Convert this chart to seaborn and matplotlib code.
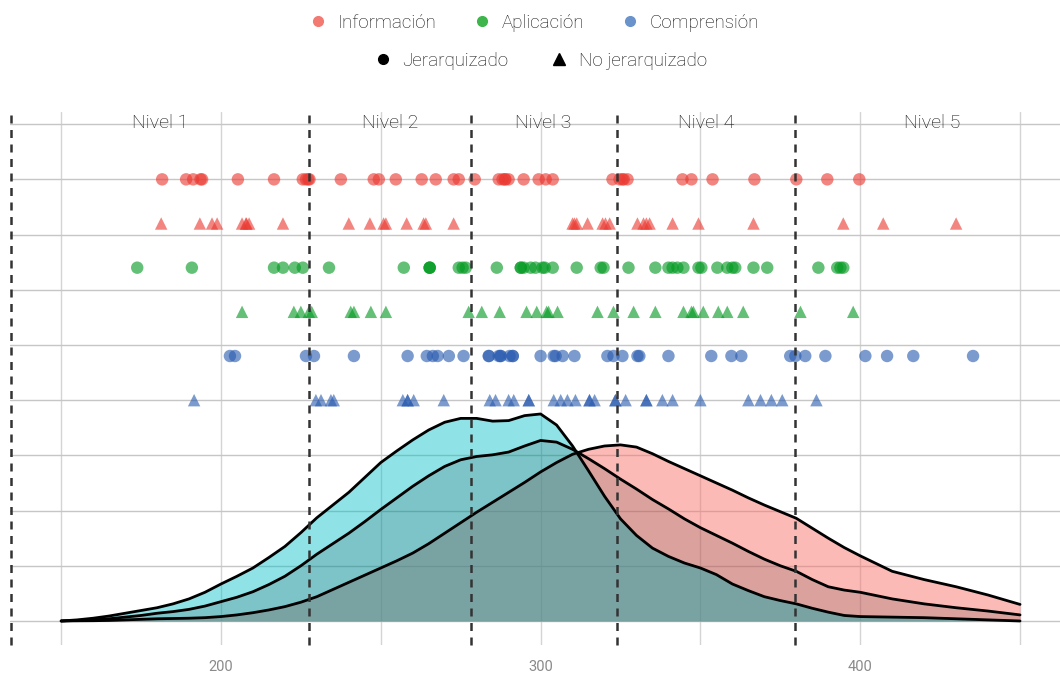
import numpy as np
import pandas as pd
import matplotlib
matplotlib.use("Agg")
import matplotlib.pyplot as plt
from matplotlib.lines import Line2D
import seaborn as sns

# ---------------- data ----------------
info_jer = [181.6, 189.1, 191.3, 193.6, 194.1, 205.3, 216.6, 225.6, 226.6, 227.3, 227.7, 237.5,
            247.8, 249.4, 254.7, 262.8, 267.2, 272.8, 274.4, 279.4, 286.9, 288.1, 288.8, 289.0,
            290.0, 294.7, 299.4, 301.6, 303.8, 322.5, 324.7, 325.6, 326.0, 327.2, 344.4, 347.2,
            353.8, 366.9, 380.0, 389.7, 399.7]
info_nojer = [181.3, 193.4, 197.2, 198.8, 206.6, 207.8, 208.0, 208.8, 219.4, 240.0, 246.6, 250.9,
              251.6, 258.1, 263.4, 264.1, 272.8, 310.0, 310.6, 311.3, 314.7, 319.4, 320.3, 321.6,
              330.3, 332.2, 333.1, 334.1, 341.3, 349.4, 366.6, 394.7, 407.2, 430.0]
apli_jer = [173.8, 190.9, 216.6, 219.4, 223.1, 225.6, 233.8, 257.2, 265.3, 265.3, 265.3, 274.4,
            275.6, 276.6, 286.3, 293.8, 293.8, 294.7, 296.9, 298.4, 300.6, 301.3, 303.8, 311.3,
            318.8, 319.7, 327.5, 335.9, 340.0, 341.3, 342.8, 344.7, 349.4, 350.3, 355.3, 358.4,
            360.0, 360.9, 366.6, 370.9, 386.9, 392.8, 393.8, 394.7]
apli_nojer = [206.6, 222.8, 225.0, 227.5, 228.4, 240.6, 241.6, 246.9, 251.6, 277.5, 281.6, 287.2,
              295.6, 298.8, 301.9, 302.5, 305.3, 317.8, 322.8, 329.1, 335.9, 344.7, 347.2, 347.8,
              350.9, 355.6, 358.4, 363.4, 381.3, 397.8]
comp_jer = [202.8, 204.4, 226.6, 229.1, 241.6, 258.4, 264.4, 266.3, 267.8, 271.3, 275.9, 283.8,
            283.8, 286.9, 287.5, 287.5, 290.3, 291.3, 291.3, 300.0, 304.1, 304.7, 306.9, 310.6,
            320.9, 322.8, 325.6, 330.3, 330.9, 340.0, 353.4, 359.7, 362.8, 378.1, 379.7, 382.8,
            389.1, 401.6, 408.4, 416.6, 435.3]
comp_nojer = [191.6, 229.7, 231.3, 234.4, 235.3, 256.9, 258.4, 258.4, 260.3, 269.7, 284.1, 285.9,
              290.0, 291.6, 296.3, 296.3, 304.1, 306.3, 308.4, 310.9, 315.3, 315.3, 316.9, 323.4,
              323.4, 326.6, 333.1, 333.1, 338.1, 341.3, 350.0, 365.0, 368.8, 372.2, 375.6, 386.3]

categories = ["Información", "Aplicación", "Comprensión"]
groups = ["Jerarquizado", "No jerarquizado"]

# density curves (score grid and heights)
dens_x = [150, 155, 160, 165, 170, 175, 180, 185, 190, 195, 200, 205, 210, 215, 220, 225, 230,
          235, 240, 245, 250, 255, 260, 265, 270, 275, 280, 285, 290, 295, 300, 305, 310, 315,
          320, 325, 330, 335, 340, 345, 350, 355, 360, 365, 370, 375, 380, 385, 390, 395, 400,
          410, 420, 430, 440, 450]
dens_teal = [0.0, 0.02, 0.05, 0.09, 0.14, 0.19, 0.24, 0.31, 0.40, 0.52, 0.67, 0.81, 0.96, 1.15,
             1.35, 1.60, 1.87, 2.10, 2.33, 2.60, 2.87, 3.08, 3.28, 3.46, 3.60, 3.67, 3.67, 3.62,
             3.63, 3.72, 3.75, 3.55, 3.17, 2.72, 2.26, 1.85, 1.55, 1.32, 1.17, 1.05, 0.96, 0.84,
             0.67, 0.55, 0.44, 0.37, 0.31, 0.23, 0.16, 0.10, 0.08, 0.07, 0.06, 0.04, 0.02, 0.0]
dens_mid = [0.0, 0.01, 0.02, 0.04, 0.07, 0.10, 0.14, 0.17, 0.21, 0.27, 0.35, 0.43, 0.53, 0.66,
            0.81, 1.00, 1.21, 1.40, 1.59, 1.80, 2.02, 2.23, 2.44, 2.63, 2.80, 2.92, 2.98, 3.01,
            3.06, 3.17, 3.27, 3.24, 3.11, 2.94, 2.76, 2.57, 2.39, 2.20, 2.03, 1.85, 1.69, 1.55,
            1.41, 1.26, 1.12, 1.00, 0.90, 0.75, 0.62, 0.56, 0.52, 0.40, 0.31, 0.24, 0.18, 0.11]
dens_red = [0.0, 0.003, 0.005, 0.01, 0.02, 0.03, 0.04, 0.045, 0.05, 0.06, 0.08, 0.11, 0.15, 0.20,
            0.26, 0.34, 0.44, 0.57, 0.70, 0.83, 0.96, 1.09, 1.23, 1.40, 1.59, 1.78, 1.97, 2.15,
            2.33, 2.51, 2.70, 2.87, 3.02, 3.11, 3.17, 3.19, 3.15, 3.03, 2.89, 2.76, 2.63, 2.50,
            2.37, 2.23, 2.10, 1.98, 1.86, 1.68, 1.50, 1.33, 1.18, 0.90, 0.75, 0.62, 0.47, 0.30]

level_cuts = [134.4, 227.5, 278.1, 323.75, 379.7, 465.3]
level_names = ["Nivel 1", "Nivel 2", "Nivel 3", "Nivel 4", "Nivel 5"]

# ---------------- style ----------------
sns.set_theme(style="white")
plt.rcParams['font.family'] = ['Roboto', 'DejaVu Sans']

fig = plt.figure(figsize=(10.6, 6.75), dpi=100)
ax = fig.add_axes([10 / 1060, 30 / 675, 1050 / 1060, 533 / 675])

row_y = {("Información", "Jerarquizado"): 8.0, ("Información", "No jerarquizado"): 7.2,
         ("Aplicación", "Jerarquizado"): 6.4, ("Aplicación", "No jerarquizado"): 5.6,
         ("Comprensión", "Jerarquizado"): 4.8, ("Comprensión", "No jerarquizado"): 4.0}
series = {("Información", "Jerarquizado"): info_jer, ("Información", "No jerarquizado"): info_nojer,
          ("Aplicación", "Jerarquizado"): apli_jer, ("Aplicación", "No jerarquizado"): apli_nojer,
          ("Comprensión", "Jerarquizado"): comp_jer, ("Comprensión", "No jerarquizado"): comp_nojer}
rows = []
for (cat, grp), vals in series.items():
    for v in vals:
        rows.append({"score": v, "ypos": row_y[(cat, grp)], "tipo": cat, "grupo": grp})
df = pd.DataFrame(rows)

base_pal = {"Información": "#EA3A32", "Aplicación": "#049A22", "Comprensión": "#2A5CB0"}
legend_pal = {"Información": "#F27A72", "Aplicación": "#3DB54A", "Comprensión": "#6A93CC"}

# grid
ax.set_xlim(134.0, 462.5)
ax.set_ylim(-0.435, 9.22)
ax.set_xticks([200, 300, 400])
ax.set_xticks([150, 250, 350, 450], minor=True)
ax.set_yticks(np.arange(0, 10))
ax.set_yticklabels([])
ax.grid(True, which="major", axis="y", color="#C6C6C6", lw=1.0)
ax.grid(True, which="both", axis="x", color="#D4D4D4", lw=1.0)
ax.set_axisbelow(True)
for s in ax.spines.values():
    s.set_visible(False)
ax.tick_params(axis="both", which="both", length=0)
ax.tick_params(axis="x", labelsize=10.5, labelcolor="#8A8A8A", pad=10.5)

# densities
xd = np.array(dens_x)
ax.fill_between(xd, 0, dens_red, color="#F8766D", alpha=0.5, lw=0, zorder=2)
ax.fill_between(xd, 0, dens_teal, color="#00BFC4", alpha=0.44, lw=0, zorder=2.1)
ax.fill_between(xd, 0, dens_mid, color="black", alpha=0.13, lw=0, zorder=2.2)
for yy in (dens_red, dens_teal, dens_mid):
    sns.lineplot(x=dens_x, y=yy, color="black", lw=2.0, ax=ax, zorder=3)

# points
sns.scatterplot(data=df, x="score", y="ypos", hue="tipo", style="grupo",
                palette=base_pal, markers={"Jerarquizado": "o", "No jerarquizado": "^"},
                s=80, alpha=0.62, linewidth=0, legend=False, ax=ax, zorder=4)

# level lines and labels
for c in level_cuts[:-1]:
    ax.axvline(c, color="#333333", lw=1.8, ls=(0, (3.2, 2.6)), zorder=5, clip_on=False)
for i, name in enumerate(level_names):
    xm = (level_cuts[i] + level_cuts[i + 1]) / 2
    ax.text(xm, 9.02, name, ha="center", va="center", fontsize=14, fontweight="light",
            color="#111111", zorder=6)

ax.set_xlabel("")
ax.set_ylabel("")

# legends
h1 = [Line2D([], [], marker="o", ls="", color=legend_pal[c], markersize=7, label=c) for c in categories]
h2 = [Line2D([], [], marker="o", ls="", color="black", markersize=7, label=groups[0]),
      Line2D([], [], marker="^", ls="", color="black", markersize=8.5, label=groups[1])]
leg1 = fig.legend(handles=h1, loc="center", bbox_to_anchor=(0.502, 1 - 23 / 675), ncol=3,
                  frameon=False, handletextpad=0.35, columnspacing=1.75, handlelength=1.4,
                  prop={"weight": "light", "size": 13.5})
leg2 = fig.legend(handles=h2, loc="center", bbox_to_anchor=(0.508, 1 - 61 / 675), ncol=2,
                  frameon=False, handletextpad=0.35, columnspacing=2.0, handlelength=1.4,
                  prop={"weight": "light", "size": 13.5})
for leg in (leg1, leg2):
    for t in leg.get_texts():
        t.set_color("#111111")

fig.savefig("out.png", dpi=100)
